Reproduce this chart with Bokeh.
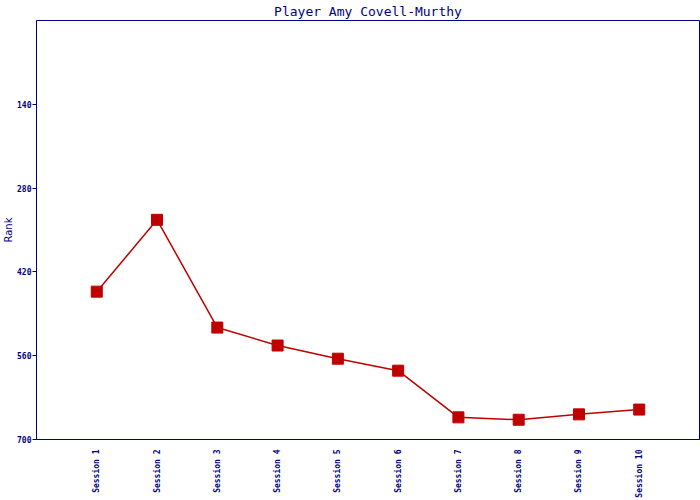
from bokeh.plotting import figure
from bokeh.models import Range1d, FixedTicker
from bokeh.embed import file_html
from bokeh.resources import INLINE
import math

sessions = ["Session 1", "Session 2", "Session 3", "Session 4", "Session 5",
            "Session 6", "Session 7", "Session 8", "Session 9", "Session 10"]
ranks = [453, 333, 513, 543, 565, 585, 663, 667, 658, 650]
y_ticks = [140, 280, 420, 560, 700]

NAVY = "#000080"
RED = "#C00000"

xs = list(range(1, len(sessions) + 1))

p = figure(width=700, height=500, output_backend="svg", toolbar_location=None,
           x_range=Range1d(0, len(sessions) + 1), y_range=Range1d(700, 0),
           title="Player Amy Covell-Murthy",
           min_border_left=0, min_border_right=1, min_border_top=0, min_border_bottom=0)

p.title.align = "center"
p.title.text_font = "DejaVu Sans Mono"
p.title.text_font_size = "13px"
p.title.text_font_style = "normal"
p.title.text_color = NAVY
p.title.standoff = 3

p.outline_line_color = NAVY
p.outline_line_width = 1
p.outline_line_alpha = 1
p.xgrid.visible = False
p.ygrid.visible = False
p.background_fill_color = "white"
p.border_fill_color = "white"

p.line(xs, ranks, line_color=RED, line_width=1.5)
p.scatter(xs, ranks, marker="square", size=11, fill_color=RED, line_color=RED)

p.xaxis.ticker = FixedTicker(ticks=xs)
p.xaxis.major_label_overrides = {x: s for x, s in zip(xs, sessions)}
p.xaxis.major_label_orientation = math.pi / 2
p.xaxis.major_tick_line_color = None
p.xaxis.minor_tick_line_color = None
p.xaxis.axis_line_color = NAVY
p.xaxis.major_label_text_font = "DejaVu Sans Mono"
p.xaxis.major_label_text_font_size = "8px"
p.xaxis.major_label_text_font_style = "bold"
p.xaxis.major_label_text_color = NAVY
p.xaxis.major_label_standoff = 4

p.yaxis.ticker = FixedTicker(ticks=y_ticks)
p.yaxis.axis_label = "Rank"
p.yaxis.axis_label_text_font = "DejaVu Sans"
p.yaxis.axis_label_text_font_size = "10px"
p.yaxis.axis_label_text_font_style = "normal"
p.yaxis.axis_label_text_color = NAVY
p.yaxis.axis_label_standoff = 0
p.yaxis.major_tick_line_color = NAVY
p.yaxis.major_tick_out = 4
p.yaxis.major_tick_in = 0
p.yaxis.minor_tick_line_color = None
p.yaxis.axis_line_color = NAVY
p.yaxis.major_label_text_font = "DejaVu Sans Mono"
p.yaxis.major_label_text_font_size = "8px"
p.yaxis.major_label_text_font_style = "bold"
p.yaxis.major_label_text_color = NAVY
p.yaxis.major_label_standoff = 1

open("out.html", "w").write(file_html(p, INLINE))
